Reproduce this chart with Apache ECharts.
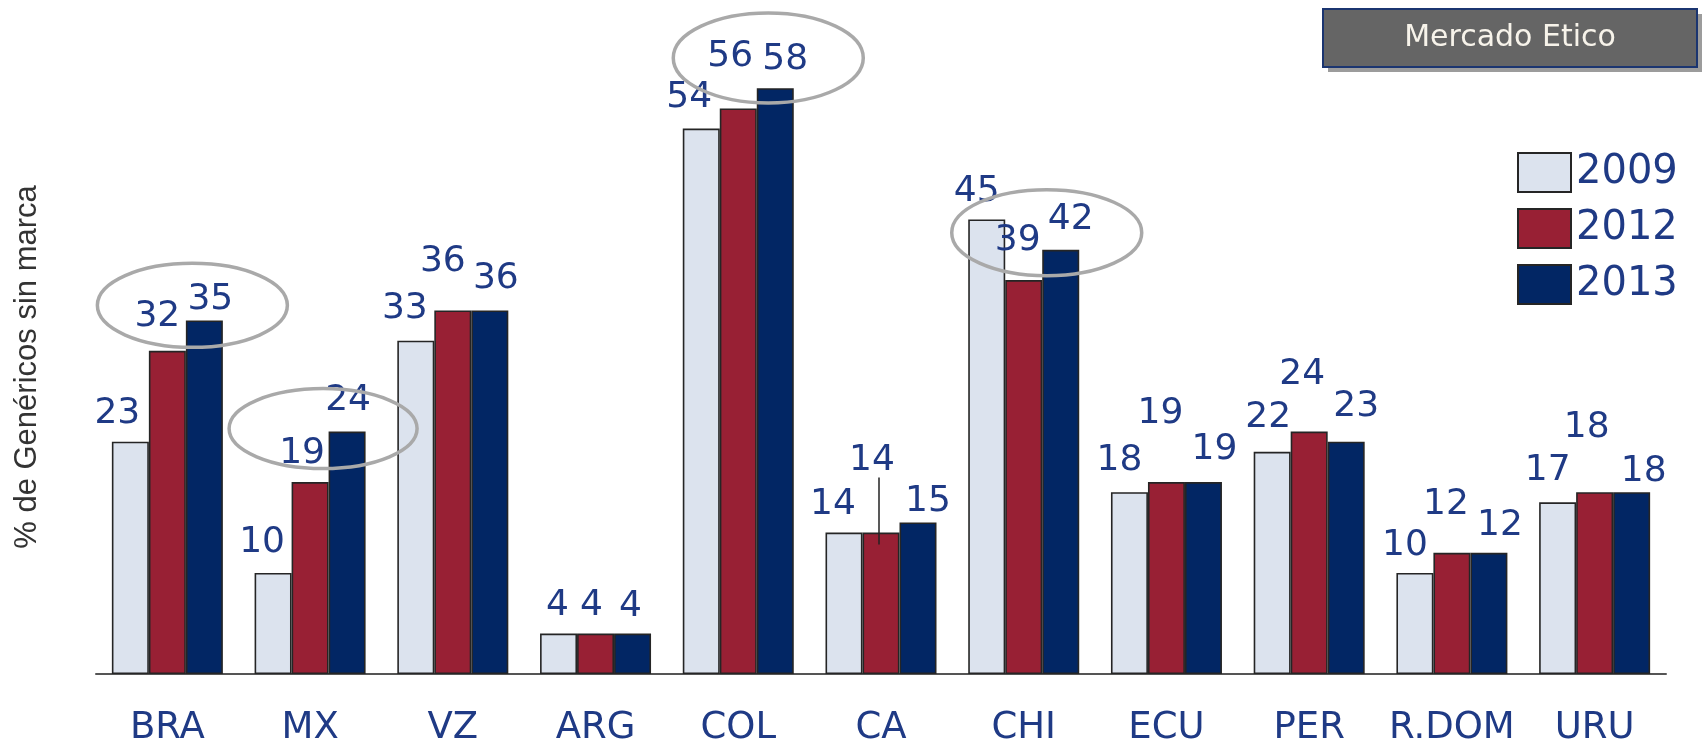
<!DOCTYPE html>
<html>
<head>
<meta charset="utf-8">
<script src="https://cdn.jsdelivr.net/npm/echarts@6/dist/echarts.min.js"></script>
<style>
  html, body { margin: 0; padding: 0; background: #ffffff; }
  #chart { width: 1707px; height: 747px; }
</style>
</head>
<body>
<div id="chart"></div>
<script>
// Share of unbranded generics in the ethical market, by country and year
const categories = ['BRA', 'MX', 'VZ', 'ARG', 'COL', 'CA', 'CHI', 'ECU', 'PER', 'R.DOM', 'URU'];
const years = ['2009', '2012', '2013'];
const values2009 = [23, 10, 33, 4, 54, 14, 45, 18, 22, 10, 17];
const values2012 = [32, 19, 36, 4, 56, 14, 39, 19, 24, 12, 18];
const values2013 = [35, 24, 36, 4, 58, 15, 42, 19, 23, 12, 18];
const axisTitle = '% de Genéricos sin marca';
const badgeText = 'Mercado Etico';

// Groups highlighted with an outline
const highlighted = ['BRA', 'MX', 'COL', 'CHI'];

// ---- styling ----
const fills = ['#dce3ee', '#982034', '#022664'];
const labelColor = '#1f3a85';
const numFont = 'DejaVu Sans';

// Hand-placed label nudges [dx, dy] so the value labels do not collide
const nudges = [
  [[-13,-5],[-11,-7],[-11,-9],[-1,-5],[-12,-8],[-11,-5],[-10,-5],[-10,-9],[-4,-11],[-10,-4],[-10,-9]],
  [[-10,-11],[-8,-5],[-10,-26],[-4,-5],[-8,-29],[-9,-49],[-6,-16],[-6,-45],[-7,-34],[-6,-25],[-8,-42]],
  [[6,2],[1,-8],[6,-9],[-2,-4],[10,-6],[10,2],[10,-7],[11,-9],[10,-12],[11,-4],[12,2]]
];

const seriesValues = [values2009, values2012, values2013];

const chart = echarts.init(document.getElementById('chart'), null, { renderer: 'canvas' });

const series = seriesValues.map((vals, s) => ({
  name: years[s],
  type: 'bar',
  barWidth: 37,
  barGap: '0%',
  itemStyle: { color: fills[s], borderColor: '#252525', borderWidth: 1.6 },
  label: {
    show: true,
    position: 'top',
    distance: 5,
    color: labelColor,
    fontFamily: numFont,
    fontSize: 36
  },
  data: vals.map((v, i) => ({ value: v, label: { offset: nudges[s][i] } }))
}));

chart.setOption({
  animation: false,
  backgroundColor: '#ffffff',
  grid: { left: 96, right: 41, top: 68, bottom: 71, containLabel: false },
  legend: {
    data: years,
    orient: 'vertical',
    left: 1517,
    top: 152,
    padding: 0,
    itemWidth: 53,
    itemHeight: 39,
    itemGap: 15,
    icon: 'rect',
    textStyle: { color: labelColor, fontFamily: numFont, fontSize: 40, lineHeight: 35, padding: [4, 0, 0, 0] }
  },
  xAxis: {
    type: 'category',
    data: categories,
    axisLine: { show: true, lineStyle: { color: '#555555', width: 2 } },
    axisTick: { show: false },
    axisLabel: { interval: 0, color: labelColor, fontFamily: numFont, fontSize: 37, margin: 36 }
  },
  yAxis: {
    type: 'value',
    min: 0,
    max: 60,
    show: false,
    splitLine: { show: false }
  },
  series: series
});

// Annotation layer: outlines, leader line, axis title and badge
function drawAnnotations() {
  const px = (cat, val) => chart.convertToPixel({ gridIndex: 0 }, [cat, val]);
  const outlineSpec = {
    BRA: { dx: 25, val: 36.5, rx: 95, ry: 42 },
    MX:  { dx: 13, val: 24.3, rx: 94, ry: 40 },
    COL: { dx: 30, val: 61.0, rx: 95, ry: 45 },
    CHI: { dx: 23, val: 43.7, rx: 95, ry: 43 }
  };
  const elements = highlighted.map(cat => {
    const o = outlineSpec[cat];
    const p = px(cat, o.val);
    return {
      type: 'ellipse',
      shape: { cx: p[0] + o.dx, cy: p[1], rx: o.rx, ry: o.ry },
      style: { fill: null, stroke: '#a9a9a9', lineWidth: 3.5 },
      z: 100
    };
  });

  // leader from the raised CA 2012 label down into its bar
  const ca = px('CA', values2012[categories.indexOf('CA')]);
  elements.push({
    type: 'line',
    shape: { x1: ca[0] - 2, y1: ca[1] - 55, x2: ca[0] - 2, y2: ca[1] + 12 },
    style: { stroke: '#222222', lineWidth: 1.5 },
    z: 100
  });

  // vertical axis title
  elements.push({
    type: 'text',
    x: 27,
    y: 367,
    rotation: Math.PI / 2,
    style: {
      text: axisTitle,
      fill: '#333333',
      font: '31px "Liberation Sans", Arial, sans-serif',
      align: 'center',
      verticalAlign: 'middle'
    },
    z: 100
  });

  // "Mercado Etico" badge with drop shadow
  elements.push({
    type: 'group',
    x: 1323,
    y: 9,
    z: 100,
    children: [
      { type: 'rect', shape: { x: 5, y: 5, width: 374, height: 58 }, style: { fill: '#9c9c9c' } },
      { type: 'rect', shape: { x: 0, y: 0, width: 374, height: 58 },
        style: { fill: '#656565', stroke: '#1b3570', lineWidth: 2 } },
      { type: 'text', x: 187, y: 29,
        style: { text: badgeText, fill: '#f7f3ea', font: '30px "DejaVu Sans", sans-serif',
                 align: 'center', verticalAlign: 'middle' } }
    ]
  });

  chart.setOption({ graphic: { elements: elements } });
}

drawAnnotations();
</script>
</body>
</html>
